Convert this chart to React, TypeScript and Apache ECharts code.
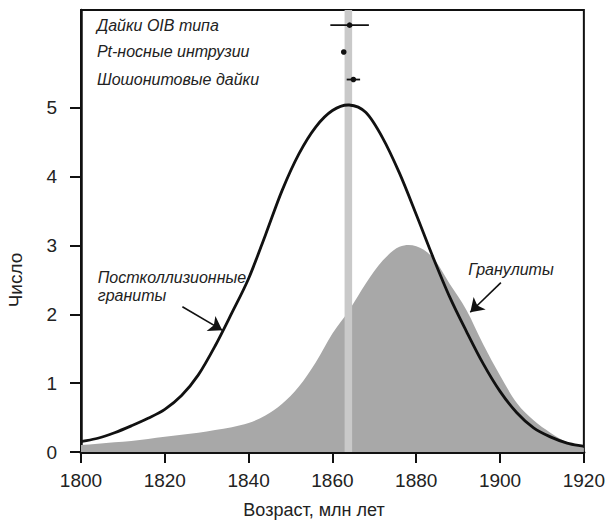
import React, { useEffect, useRef } from 'react';
import * as echarts from 'echarts';

const FONT = '"Liberation Sans", Arial, Helvetica, sans-serif';

// Ages (млн лет), sampled every 4 Myr
const ages = [1800, 1804, 1808, 1812, 1816, 1820, 1824, 1828, 1832, 1836, 1840, 1844, 1848, 1852, 1856, 1860, 1864, 1868, 1872, 1876, 1880, 1884, 1888, 1892, 1896, 1900, 1904, 1908, 1912, 1916, 1920];

// Постколлизионные граниты (curve)
const granitesCount = [0.15, 0.2, 0.28, 0.38, 0.49, 0.62, 0.82, 1.12, 1.54, 2.02, 2.52, 3.15, 3.8, 4.33, 4.72, 4.96, 5.04, 4.93, 4.56, 4.05, 3.45, 2.83, 2.25, 1.75, 1.28, 0.88, 0.57, 0.35, 0.22, 0.13, 0.08];

// Гранулиты (filled)
const granulitesCount = [0.1, 0.12, 0.14, 0.16, 0.19, 0.22, 0.25, 0.28, 0.32, 0.36, 0.42, 0.53, 0.7, 0.95, 1.3, 1.72, 2.06, 2.45, 2.78, 2.98, 2.99, 2.82, 2.44, 2.06, 1.56, 1.11, 0.71, 0.46, 0.28, 0.14, 0.06];

// Dated intrusions
const sampleNames = ['Дайки OIB типа', 'Pt-носные интрузии', 'Шошонитовые дайки'];
const sampleAges = [1864.1, 1862.7, 1865.0];
const sampleErrors = [4.6, 0.5, 1.6];
const sampleRowY = [6.2, 5.81, 5.41];

// Highlighted age band
const bandAges = [1862.9, 1864.7];

// Axis ticks
const xTicks = [1800, 1820, 1840, 1860, 1880, 1900, 1920];
const yTicks = [0, 1, 2, 3, 4, 5];

// Curve annotations
const curveLabels = ['Постколлизионные', 'граниты', 'Гранулиты'];
const curveLabelAges = [1804, 1804, 1892.4];
const curveLabelCounts = [2.53, 2.27, 2.65];
const arrows = [
  [[1824.2, 2.11], [1833.7, 1.77]],
  [[1900.2, 2.46], [1892.9, 2.03]],
];

// Catmull-Rom spline through pixel points -> SVG path commands (no leading M)
function splinePath(pts: number[][]): string {
  let d = '';
  const n = pts.length;
  for (let i = 0; i < n - 1; i++) {
    const p0 = i === 0 ? [2 * pts[0][0] - pts[1][0], 2 * pts[0][1] - pts[1][1]] : pts[i - 1];
    const p1 = pts[i];
    const p2 = pts[i + 1];
    const p3 = i + 2 < n ? pts[i + 2] : [2 * pts[n - 1][0] - pts[n - 2][0], 2 * pts[n - 1][1] - pts[n - 2][1]];
    const c1x = p1[0] + (p2[0] - p0[0]) / 6;
    const c1y = p1[1] + (p2[1] - p0[1]) / 6;
    const c2x = p2[0] - (p3[0] - p1[0]) / 6;
    const c2y = p2[1] - (p3[1] - p1[1]) / 6;
    d += ` C ${c1x.toFixed(2)} ${c1y.toFixed(2)} ${c2x.toFixed(2)} ${c2y.toFixed(2)} ${p2[0].toFixed(2)} ${p2[1].toFixed(2)}`;
  }
  return d;
}

export default function App() {
  const ref = useRef<HTMLDivElement>(null);

  useEffect(() => {
    if (!ref.current) return;
    const chart = echarts.init(ref.current, undefined, { renderer: 'svg' });
    const yMax = 6.42;

    const curveSeries = (name: string, counts: number[], filled: boolean, z: number) => ({
      name,
      type: 'custom',
      z,
      silent: true,
      data: ages.map((a, i) => [a, counts[i]]),
      renderItem: (params: any, api: any) => {
        if (params.dataIndex !== 0) return null;
        const pts = ages.map((a, i) => api.coord([a, counts[i]]));
        let d = `M ${pts[0][0].toFixed(2)} ${pts[0][1].toFixed(2)}` + splinePath(pts);
        if (filled) {
          const b1 = api.coord([ages[ages.length - 1], 0]);
          const b0 = api.coord([ages[0], 0]);
          d += ` L ${b1[0]} ${b1[1]} L ${b0[0]} ${b0[1]} Z`;
          return { type: 'path', shape: { pathData: d }, style: { fill: '#a8a8a8', stroke: 'none' } };
        }
        return {
          type: 'path',
          shape: { pathData: d },
          style: { fill: 'none', stroke: '#111', lineWidth: 2.8, lineJoin: 'round' },
        };
      },
    });

    const option: any = {
      animation: false,
      backgroundColor: '#fff',
      grid: {
        left: 81,
        right: 22,
        top: 10,
        bottom: 69,
        show: true,
        borderColor: '#111',
        borderWidth: 2,
        backgroundColor: 'transparent',
      },
      xAxis: {
        type: 'value',
        min: xTicks[0],
        max: xTicks[xTicks.length - 1],
        interval: 20,
        splitLine: { show: false },
        axisLine: { show: true, onZero: false, lineStyle: { color: '#111', width: 3 } },
        axisTick: { show: true, inside: false, length: 11, lineStyle: { color: '#111', width: 2 } },
        axisLabel: {
          fontSize: 19,
          color: '#222',
          fontFamily: FONT,
          margin: 19,
          formatter: (v: number) => String(v),
        },
      },
      yAxis: {
        type: 'value',
        min: 0,
        max: yMax,
        interval: 1,
        splitLine: { show: false },
        axisLine: { show: true, lineStyle: { color: '#111', width: 2.5 } },
        axisTick: {
          show: true,
          inside: false,
          length: 11,
          customValues: yTicks,
          lineStyle: { color: '#111', width: 2 },
        },
        axisLabel: {
          fontSize: 19,
          color: '#222',
          fontFamily: FONT,
          margin: 24,
          customValues: yTicks,
          formatter: (v: number) => (v > 5 ? '' : String(v)),
        },
      },
      graphic: [
        {
          type: 'text',
          x: 314,
          y: 510,
          style: {
            text: 'Возраст, млн лет',
            fontSize: 18,
            fontFamily: FONT,
            fill: '#222',
            align: 'center',
            verticalAlign: 'middle',
          },
        },
        {
          type: 'text',
          x: 15,
          y: 280,
          rotation: Math.PI / 2,
          style: {
            text: 'Число',
            fontSize: 19,
            fontFamily: FONT,
            fill: '#222',
            align: 'center',
            verticalAlign: 'middle',
          },
        },
      ],
      series: [
        curveSeries('Гранулиты', granulitesCount, true, 2),
        {
          name: 'band',
          type: 'custom',
          z: 3,
          silent: true,
          data: [[bandAges[0], bandAges[1]]],
          renderItem: (params: any, api: any) => {
            const p0 = api.coord([api.value(0), yMax]);
            const p1 = api.coord([api.value(1), 0]);
            return {
              type: 'rect',
              shape: { x: p0[0], y: p0[1], width: p1[0] - p0[0], height: p1[1] - p0[1] },
              style: { fill: '#c9c9c9' },
            };
          },
        },
        curveSeries('Постколлизионные граниты', granitesCount, false, 4),
        {
          name: 'arrows',
          type: 'line',
          z: 5,
          silent: true,
          data: [],
          markLine: {
            silent: true,
            symbol: ['none', 'arrow'],
            symbolSize: 13,
            label: { show: false },
            lineStyle: { color: '#111', width: 1.6, type: 'solid' },
            data: arrows.map(([s, e]) => [{ coord: s }, { coord: e }]),
          },
        },
        {
          name: 'samples',
          type: 'custom',
          z: 6,
          silent: true,
          data: sampleAges.map((a, i) => [a, sampleErrors[i], sampleRowY[i]]),
          renderItem: (params: any, api: any) => {
            const age = api.value(0);
            const err = api.value(1);
            const y = api.value(2);
            const p0 = api.coord([age - err, y]);
            const p1 = api.coord([age + err, y]);
            const pc = api.coord([age, y]);
            const pl = api.coord([1803.8, y]);
            return {
              type: 'group',
              children: [
                {
                  type: 'line',
                  shape: { x1: p0[0], y1: p0[1], x2: p1[0], y2: p1[1] },
                  style: { stroke: '#111', lineWidth: 1.8 },
                },
                {
                  type: 'circle',
                  shape: { cx: pc[0], cy: pc[1], r: 2.8 },
                  style: { fill: '#111' },
                },
                {
                  type: 'text',
                  x: pl[0],
                  y: pl[1],
                  style: {
                    text: sampleNames[params.dataIndex],
                    fontSize: 16,
                    fontStyle: 'italic',
                    fontFamily: FONT,
                    fill: '#222',
                    align: 'left',
                    verticalAlign: 'middle',
                  },
                },
              ],
            };
          },
        },
        {
          name: 'curveLabels',
          type: 'custom',
          z: 7,
          silent: true,
          data: curveLabelAges.map((a, i) => [a, curveLabelCounts[i]]),
          renderItem: (params: any, api: any) => {
            const p = api.coord([api.value(0), api.value(1)]);
            return {
              type: 'text',
              x: p[0],
              y: p[1],
              style: {
                text: curveLabels[params.dataIndex],
                fontSize: 16,
                fontStyle: 'italic',
                fontFamily: FONT,
                fill: '#222',
                align: 'left',
                verticalAlign: 'middle',
              },
            };
          },
        },
      ],
    };

    chart.setOption(option);
    return () => chart.dispose();
  }, []);

  return (
    <div
      ref={ref}
      style={{ position: 'fixed', left: 0, top: 0, width: 608, height: 521, background: '#fff' }}
    />
  );
}
